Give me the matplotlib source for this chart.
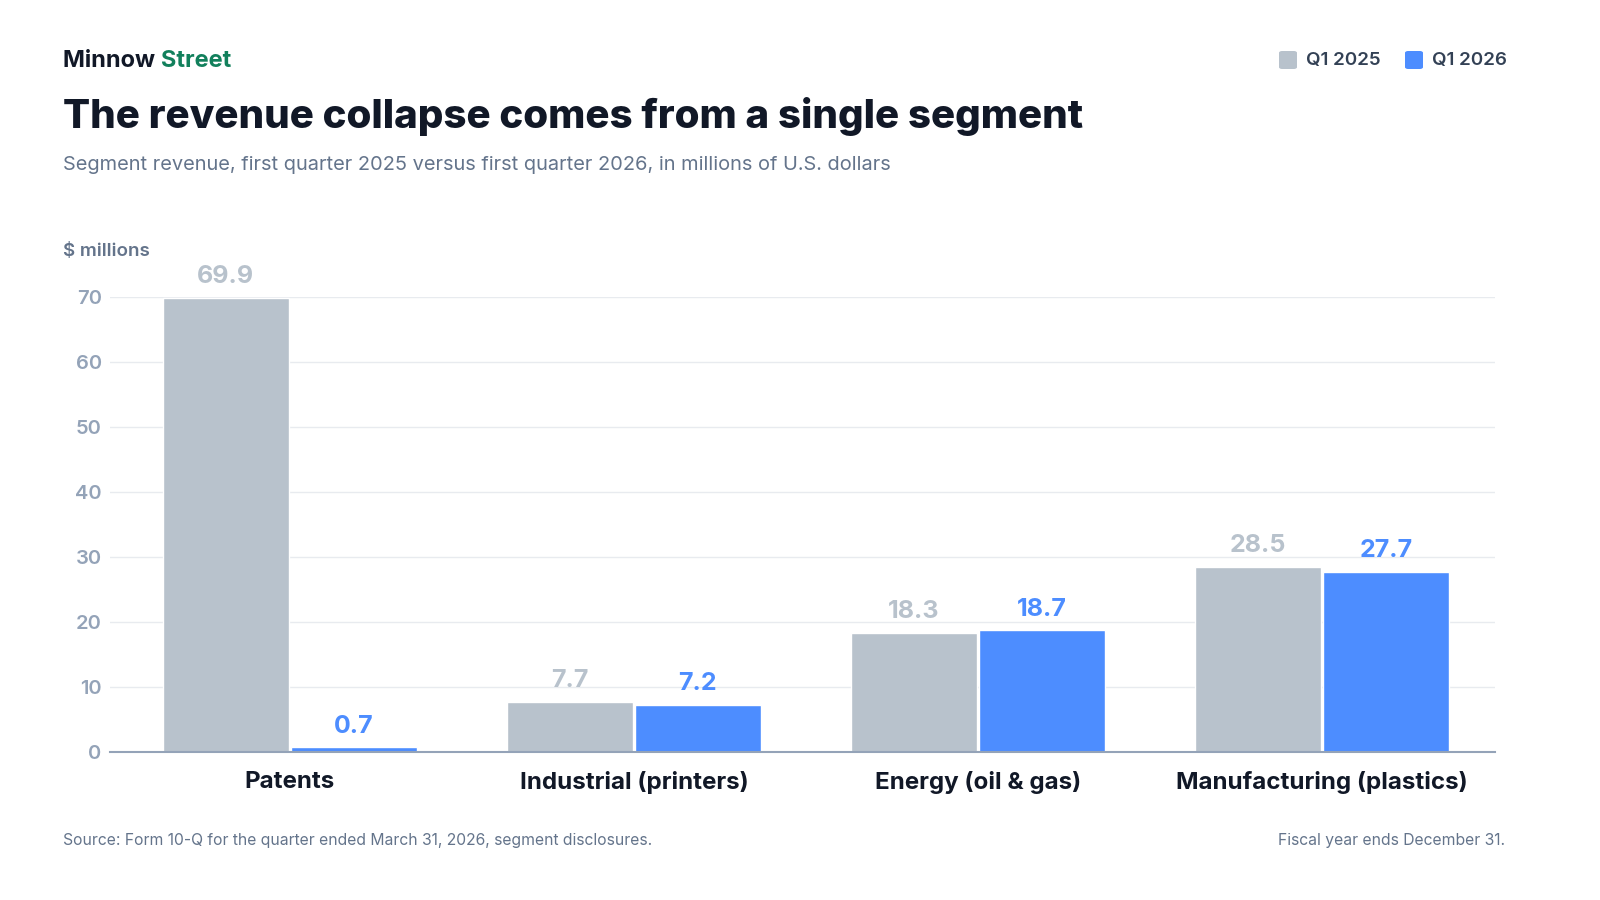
import matplotlib
matplotlib.use("Agg")
import matplotlib.pyplot as plt
import numpy as np
from matplotlib.patches import FancyBboxPatch

categories = ["Patents", "Industrial (printers)", "Energy (oil & gas)", "Manufacturing (plastics)"]
q1_2025 = [69.9, 7.7, 18.3, 28.5]
q1_2026 = [0.7, 7.2, 18.7, 27.7]
series_names = ["Q1 2025", "Q1 2026"]
y_ticks = [0, 10, 20, 30, 40, 50, 60, 70]

GRAY = "#b8c2cc"
BLUE = "#4d8dff"
DARK = "#111827"
SUB = "#64748b"
TICK = "#94a3b8"
GREEN = "#12805c"

plt.rcParams['font.family'] = ['Inter', 'DejaVu Sans']

fig = plt.figure(figsize=(16, 9), dpi=100)
fig.patch.set_facecolor("white")
ax = fig.add_axes([110/1600, 1-752/900, (1495-110)/1600, 455/900])

x = np.arange(len(categories))
w = 0.366
b1 = ax.bar(x - w/2 - 0.003, q1_2025, width=w, color=GRAY, edgecolor="white", linewidth=1, zorder=3)
b2 = ax.bar(x + w/2 + 0.003, q1_2026, width=w, color=BLUE, edgecolor="white", linewidth=1, zorder=3)

for bars, vals, col in [(b1, q1_2025, GRAY), (b2, q1_2026, BLUE)]:
    for rect, v in zip(bars, vals):
        ax.annotate(f"{v}", (rect.get_x() + rect.get_width()/2, v), xytext=(0, 7), textcoords="offset points",
                    ha="center", va="bottom", fontsize=18, fontweight="bold", color=col, clip_on=False)

ax.set_xlim(-0.523, 3.503)
ax.set_ylim(0, 70)
ax.set_yticks(y_ticks)
ax.set_yticklabels([str(t) for t in y_ticks], fontsize=14.5, fontweight="semibold", color=TICK)
ax.set_xticks(x)
ax.set_xticklabels(categories, fontsize=17.4, fontweight="bold", color=DARK)
ax.tick_params(axis="y", length=0, pad=6)
ax.tick_params(axis="x", length=0, pad=14)
ax.grid(axis="y", color="#e8ebef", linewidth=1, zorder=0)
for s in ["top", "right", "left"]:
    ax.spines[s].set_visible(False)
ax.spines["bottom"].set_color(TICK)
ax.spines["bottom"].set_linewidth(1.5)
ax.spines["bottom"].set_zorder(4)

# header
t1 = fig.text(63/1600, 1-61/900, "Minnow ", fontsize=17, fontweight="bold", color=DARK, va="center", ha="left")
fig.canvas.draw()
bb = t1.get_window_extent()
fig.text(bb.x1/1600, 1-61/900, "Street", fontsize=17, fontweight="bold", color=GREEN, va="center", ha="left")
fig.text(63/1600, 1-116/900, "The revenue collapse comes from a single segment", fontsize=29, fontweight="heavy",
         color=DARK, va="center", ha="left")
fig.text(63/1600, 1-165/900, "Segment revenue, first quarter 2025 versus first quarter 2026, in millions of U.S. dollars",
         fontsize=14.4, color=SUB, va="center", ha="left")
fig.text(63/1600, 1-252/900, "$ millions", fontsize=13.5, fontweight="semibold", color=SUB, va="center", ha="left")

# legend
for (lx, label, col) in [(1279, series_names[0], GRAY), (1405, series_names[1], BLUE)]:
    p = FancyBboxPatch((lx/1600, 1-69/900), 18/1600, 18/900, boxstyle="round,pad=0,rounding_size=0.002",
                       transform=fig.transFigure, facecolor=col, edgecolor="none")
    fig.patches.append(p)
    fig.text((lx+27)/1600, 1-60/900, label, fontsize=13.5, fontweight="semibold", color="#334155", va="center", ha="left")

# footer
fig.text(63/1600, 1-840/900, "Source: Form 10-Q for the quarter ended March 31, 2026, segment disclosures.",
         fontsize=11.3, color=SUB, va="center", ha="left")
fig.text(1505/1600, 1-840/900, "Fiscal year ends December 31.", fontsize=11.3, color=SUB, va="center", ha="right")

fig.savefig("out.png", dpi=100, facecolor="white")
